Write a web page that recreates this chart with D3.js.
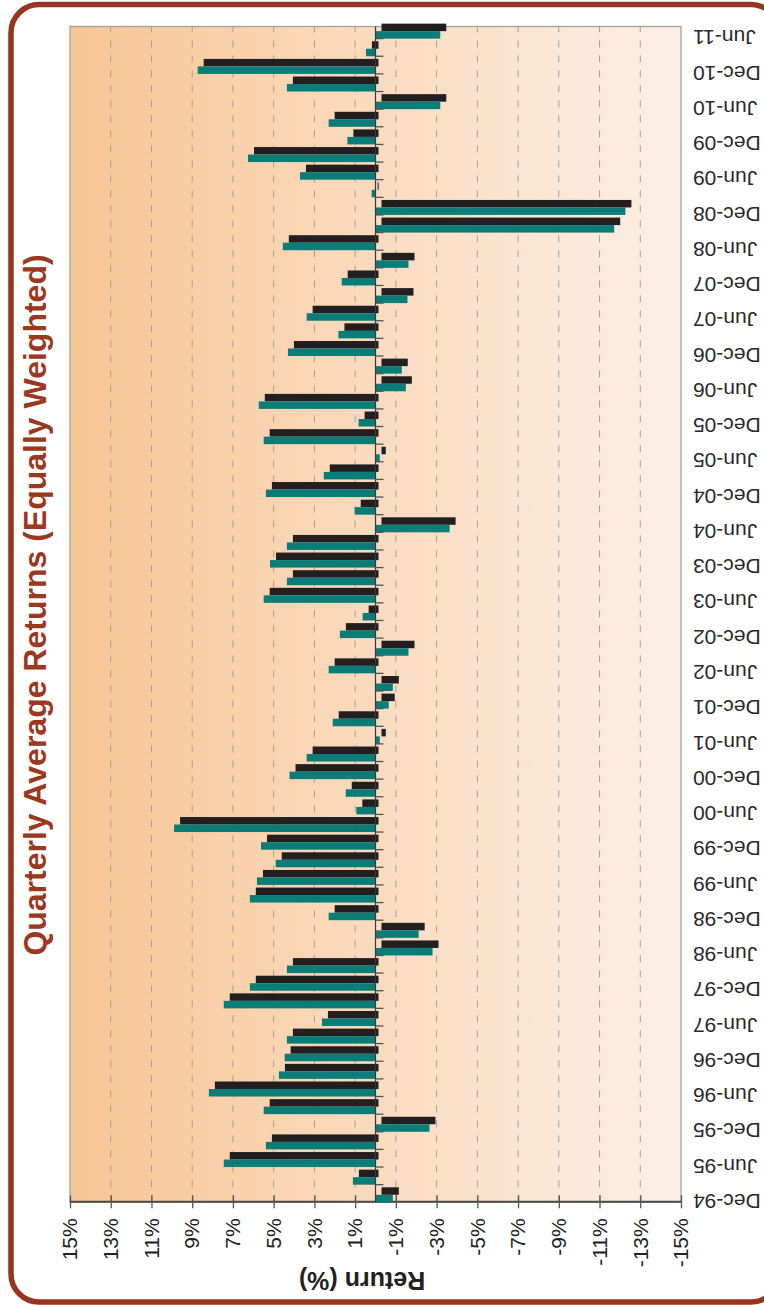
<!DOCTYPE html>
<html>
<head>
<meta charset="utf-8">
<script src="https://cdn.jsdelivr.net/npm/d3@7"></script>
<style>
  body { margin: 0; background: #fff; }
  text { font-family: "Liberation Sans", Arial, sans-serif; }
</style>
</head>
<body>
<div id="chart"></div>
<script>
// **** THE DATA ****

const categories = ["Dec-94","Mar-95","Jun-95","Sep-95","Dec-95","Mar-96","Jun-96","Sep-96","Dec-96","Mar-97",
  "Jun-97","Sep-97","Dec-97","Mar-98","Jun-98","Sep-98","Dec-98","Mar-99","Jun-99","Sep-99",
  "Dec-99","Mar-00","Jun-00","Sep-00","Dec-00","Mar-01","Jun-01","Sep-01","Dec-01","Mar-02",
  "Jun-02","Sep-02","Dec-02","Mar-03","Jun-03","Sep-03","Dec-03","Mar-04","Jun-04","Sep-04",
  "Dec-04","Mar-05","Jun-05","Sep-05","Dec-05","Mar-06","Jun-06","Sep-06","Dec-06","Mar-07",
  "Jun-07","Sep-07","Dec-07","Mar-08","Jun-08","Sep-08","Dec-08","Mar-09","Jun-09","Sep-09",
  "Dec-09","Mar-10","Jun-10","Sep-10","Dec-10","Mar-11","Jun-11"]

// quarterly average return, %
const returns = [-0.85, 1.11, 7.45, 5.38, -2.65, 5.49, 8.18, 4.74, 4.46, 4.35,
  2.63, 7.45, 6.17, 4.35, -2.80, -2.12, 2.30, 6.17, 5.82, 4.90,
  5.62, 9.89, 0.94, 1.46, 4.22, 3.38, -0.21, 2.10, -0.65, -0.85,
  2.30, -1.62, 1.75, 0.63, 5.49, 4.35, 5.18, 4.35, -3.64, 1.02,
  5.38, 2.54, -0.21, 5.49, 0.83, 5.73, -1.49, -1.29, 4.30, 1.82,
  3.38, -1.57, 1.66, -1.62, 4.55, -11.72, -12.27, 0.19, 3.71, 6.26,
  1.38, 2.30, -3.18, 4.35, 8.73, 0.47, -3.18]

const valueTicks = [15, 13, 11, 9, 7, 5, 3, 1, -1, -3, -5, -7, -9, -11, -13, -15]
const gridValues = [13, 11, 9, 7, 5, 3, 1, -1, -3, -5, -7, -9, -11, -13]

const chartTitle = "Quarterly Average Returns (Equally Weighted)"
const valueTitle = "Return (%)"

const dataset = categories.map((c, i) => ({quarter: c, value: returns[i]}))

// **** THE SETUP ****

// the chart is laid out upright (1305 wide x 764 high) and the whole
// group is then turned a quarter turn anticlockwise onto the 764x1305 page
const pageW = 764, pageH = 1305
const plot = {left: 102.7, right: 1278.5, top: 70, bottom: 681}

const xScale = d3.scaleBand()
    .domain(categories)
    .range([102.7, 1284])

const yScale = d3.scaleLinear()
    .domain([-15, 15])
    .range([plot.bottom, plot.top])

const barW = 7.5
const shadow = {dx: 7.5, dy: 6}
const y0 = yScale(0)

const svg = d3.select("#chart").append("svg")
    .attr("width", pageW)
    .attr("height", pageH)

const defs = svg.append("defs")
const grad = defs.append("linearGradient")
    .attr("id", "plotBg")
    .attr("x1", 0).attr("y1", 0).attr("x2", 0).attr("y2", 1)
grad.append("stop").attr("offset", "0%").attr("stop-color", "#f7c594")
grad.append("stop").attr("offset", "50%").attr("stop-color", "#fadbbf")
grad.append("stop").attr("offset", "100%").attr("stop-color", "#fdefe6")

svg.append("rect").attr("width", pageW).attr("height", pageH).attr("fill", "#fff")

const g = svg.append("g")
    .attr("transform", "translate(0," + pageH + ") rotate(-90)")

// outer rounded frame
g.append("rect")
    .attr("x", 3).attr("y", 11)
    .attr("width", 1297.5).attr("height", 768)
    .attr("rx", 28).attr("ry", 28)
    .attr("fill", "none")
    .attr("stroke", "#973520")
    .attr("stroke-width", 5.5)

// plot area
g.append("rect")
    .attr("x", plot.left).attr("y", plot.top)
    .attr("width", plot.right - plot.left).attr("height", plot.bottom - plot.top)
    .attr("fill", "url(#plotBg)")
    .attr("stroke", "#a3a3a3")
    .attr("stroke-width", 1.3)

// dashed grid
g.selectAll(".grid")
    .data(gridValues)
  .enter().append("line")
    .attr("class", "grid")
    .attr("x1", plot.left).attr("x2", plot.right)
    .attr("y1", d => yScale(d)).attr("y2", d => yScale(d))
    .attr("stroke", "#a5a09a")
    .attr("stroke-width", 1)
    .attr("stroke-dasharray", "7,8")

// value axis
const yAxis = g.append("g")
    .attr("transform", "translate(" + plot.left + ",0)")
    .call(d3.axisLeft(yScale).tickValues(valueTicks).tickFormat(d => d + "%")
      .tickSizeInner(6).tickSizeOuter(0).tickPadding(10))
yAxis.select(".domain").attr("stroke", "#4d4d4d").attr("stroke-width", 2)
yAxis.selectAll(".tick line").attr("x1", 7).attr("stroke", "#555").attr("stroke-width", 1.3)
yAxis.selectAll(".tick text")
    .attr("font-family", "Liberation Sans, Arial, sans-serif")
    .attr("font-size", 21)
    .attr("fill", "#222")

// shadows
g.selectAll(".shadow")
    .data(dataset)
  .enter().append("rect")
    .attr("class", "shadow")
    .attr("x", d => xScale(d.quarter) + shadow.dx)
    .attr("y", d => d.value >= 0 ? yScale(d.value) + shadow.dy : y0 + shadow.dy)
    .attr("width", barW)
    .attr("height", d => d.value >= 0
        ? Math.max(1, y0 + 3 - (yScale(d.value) + shadow.dy))
        : yScale(d.value) - y0)
    .attr("fill", "#231f20")

// bars
g.selectAll(".bar")
    .data(dataset)
  .enter().append("rect")
    .attr("class", "bar")
    .attr("x", d => xScale(d.quarter))
    .attr("y", d => yScale(Math.max(0, d.value)))
    .attr("width", barW)
    .attr("height", d => Math.abs(yScale(d.value) - y0))
    .attr("fill", "#0a7d79")

// category axis at zero
g.append("line")
    .attr("x1", plot.left).attr("x2", plot.right)
    .attr("y1", y0).attr("y2", y0)
    .attr("stroke", "#3a3a3a").attr("stroke-width", 1.2)

g.selectAll(".ctick")
    .data(categories.slice(1))
  .enter().append("line")
    .attr("class", "ctick")
    .attr("x1", d => xScale(d)).attr("x2", d => xScale(d))
    .attr("y1", y0).attr("y2", y0 + 8)
    .attr("stroke", "#555").attr("stroke-width", 1.3)

// category labels, every second quarter
g.selectAll(".clabel")
    .data(categories.filter((d, i) => i % 2 === 0))
  .enter().append("text")
    .attr("class", "clabel")
    .attr("transform", d => "translate(" + (xScale(d) + 1) + ",693) rotate(-90)")
    .attr("dy", "0.35em")
    .attr("text-anchor", "end")
    .attr("font-size", 21)
    .attr("fill", "#2a2a2a")
    .text(d => d)

// value axis title
g.append("text")
    .attr("transform", "translate(33,362) rotate(-90)")
    .attr("text-anchor", "middle")
    .attr("font-size", 25)
    .attr("font-weight", "bold")
    .attr("fill", "#222")
    .text(valueTitle)

// chart title
g.append("text")
    .attr("x", 700)
    .attr("y", 46)
    .attr("text-anchor", "middle")
    .attr("font-size", 32)
    .attr("font-weight", "bold")
    .attr("fill", "#9a3820")
    .text(chartTitle)
</script>
</body>
</html>
